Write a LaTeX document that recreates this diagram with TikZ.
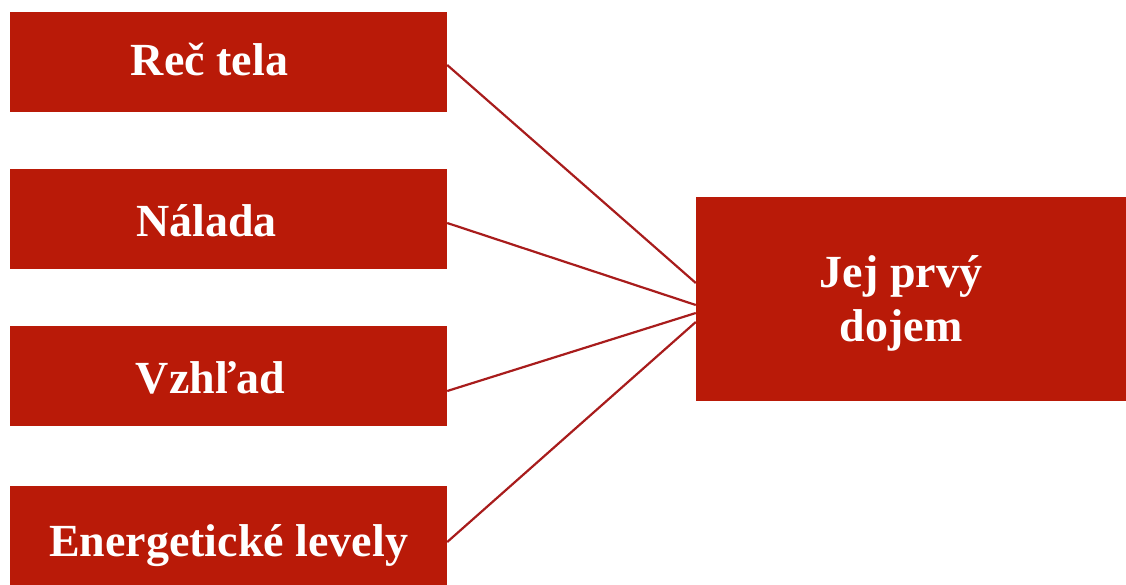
\documentclass[tikz,border=0pt]{standalone}
\usepackage{fontspec}
\setmainfont{Liberation Serif}
\usepackage{tikz}
\usetikzlibrary{positioning}
\definecolor{colorBox}{RGB}{185,26,8}
\definecolor{colorLink}{RGB}{168,28,28}

\begin{document}
\begin{tikzpicture}[x=1pt, y=-1pt,
  every label/.style={text=white, font=\fontsize{46}{54}\selectfont\bfseries, align=center},
  leftbox/.style={rectangle, fill=colorBox, minimum width=437pt, minimum height=100pt, inner sep=0pt},
  mainbox/.style={rectangle, fill=colorBox, minimum width=440pt, minimum height=204pt, inner sep=0pt},
  link/.style={colorLink, line width=2.2pt}]
\useasboundingbox (0,0) rectangle (1126,584);
\clip (0,0) rectangle (1126,584);
\node[leftbox, label={[xshift=-19pt, yshift=2pt]center:Reč tela}] (rec) at (228.5,61.5) {};
\node[leftbox, label={[xshift=-22pt, yshift=-2pt]center:Nálada}] (nalada) at (228.5,219) {};
\node[leftbox, label={[xshift=-18pt, yshift=-2pt]center:Vzhľad}] (vzhlad) at (228.5,376) {};
\node[leftbox, minimum height=120pt, label={center:Energetické levely}] (energia) at (228.5,546) {};
\node[mainbox, label={[xshift=-15pt, yshift=-4pt]center:Jej prvý\\dojem}] (dojem) at (916,299) {};
\draw[link] ([yshift=-3.5pt]rec.east) -- ([yshift=16pt]dojem.west);
\draw[link] ([yshift=-4pt]nalada.east) -- ([yshift=-6pt]dojem.west);
\draw[link] ([yshift=-15pt]vzhlad.east) -- ([yshift=-14pt]dojem.west);
\draw[link] ([yshift=4pt]energia.east) -- ([yshift=-23pt]dojem.west);
\end{tikzpicture}
\end{document}
